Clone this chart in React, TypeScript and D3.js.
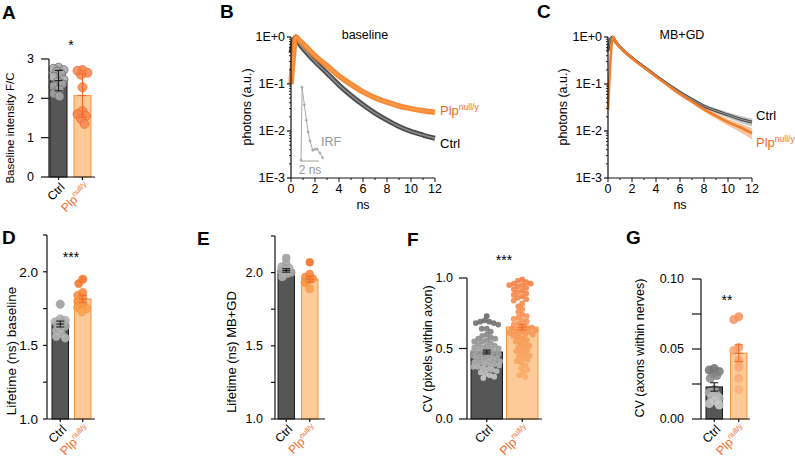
import React from "react";
import * as d3 from "d3";

const FONT = "'Liberation Sans', Arial, Helvetica, sans-serif";
const ORANGE_TEXT = "#f26a2a";
const CTRL_BAR = "#565656";
const PLP_BAR = "#fdca98";
const PLP_STROKE = "#f7953a";
const ERR_PLP = "#f26a2a";

const groupNames = ["Ctrl", "Plp"];

// ---------- Panel A ----------
const aCtrlPoints = [2.78, 2.75, 2.72, 2.68, 2.62, 2.55, 2.48, 2.42, 2.36, 2.3, 2.22, 2.12, 2.05];
const aPlpPoints = [2.72, 2.7, 2.65, 2.6, 2.28, 1.68, 1.6, 1.55, 1.48, 1.35];
const aMeans = [2.45, 2.07];
const aErrors = [0.26, 0.55];

// ---------- Panel D ----------
const dCtrlPoints = [1.78, 1.68, 1.67, 1.66, 1.65, 1.64, 1.63, 1.62, 1.6, 1.58, 1.56, 1.55];
const dPlpPoints = [1.95, 1.92, 1.86, 1.84, 1.82, 1.8, 1.78, 1.76, 1.75, 1.73];
const dMeans = [1.645, 1.815];
const dErrors = [0.02, 0.025];

// ---------- Panel E ----------
const eCtrlPoints = [2.1, 2.06, 2.04, 2.03, 2.02, 2.01, 2.0, 1.99, 1.97];
const ePlpPoints = [2.07, 1.99, 1.97, 1.96, 1.95, 1.93, 1.89];
const eMeans = [2.015, 1.955];
const eErrors = [0.012, 0.02];

// ---------- Panel F ----------
const fCtrlPoints = [
  0.73, 0.7, 0.69, 0.69, 0.68, 0.68, 0.67, 0.64, 0.64, 0.62, 0.6, 0.59, 0.58, 0.57, 0.57, 0.56,
  0.55, 0.55, 0.54, 0.53, 0.52, 0.52, 0.51, 0.51, 0.5, 0.5, 0.49, 0.49, 0.48, 0.48, 0.47, 0.47,
  0.46, 0.46, 0.45, 0.45, 0.45, 0.44, 0.44, 0.43, 0.43, 0.42, 0.42, 0.41, 0.41, 0.4, 0.4, 0.39,
  0.39, 0.38, 0.38, 0.37, 0.37, 0.36, 0.35, 0.35, 0.34, 0.33, 0.32, 0.31, 0.3, 0.29,
];
const fPlpPoints = [
  0.99, 0.98, 0.97, 0.96, 0.96, 0.95, 0.95, 0.94, 0.93, 0.92, 0.91, 0.9, 0.89, 0.88, 0.87, 0.86,
  0.85, 0.84, 0.82, 0.8, 0.78, 0.76, 0.74, 0.73, 0.72, 0.71, 0.7, 0.69, 0.68, 0.67, 0.66, 0.65,
  0.65, 0.64, 0.64, 0.63, 0.63, 0.62, 0.62, 0.61, 0.61, 0.6, 0.6, 0.59, 0.58, 0.57, 0.56, 0.55,
  0.54, 0.53, 0.52, 0.51, 0.5, 0.49, 0.48, 0.47, 0.46, 0.45, 0.44, 0.43, 0.42, 0.41, 0.4, 0.38,
  0.36, 0.35, 0.33, 0.31, 0.3,
];
const fMeans = [0.475, 0.652];
const fErrors = [0.014, 0.02];

// ---------- Panel G ----------
const gCtrlPoints = [0.036, 0.035, 0.034, 0.033, 0.031, 0.029, 0.021, 0.019, 0.017, 0.016, 0.015, 0.013, 0.011, 0.01];
const gPlpPoints = [0.073, 0.071, 0.051, 0.049, 0.042, 0.037, 0.029, 0.021];
const gMeans = [0.0229, 0.047];
const gErrors = [0.003, 0.006];

// ---------- Panels B / C (decay curves) ----------
const decayTimes = [0, 0.2, 0.4, 0.6, 0.8, 1, 1.5, 2, 3, 4, 5, 6, 7, 8, 9, 10, 11, 12];
const bCtrl = [0.45, 0.8, 1.0, 0.8, 0.66, 0.57, 0.41, 0.3, 0.17, 0.095, 0.057, 0.036, 0.024, 0.017, 0.0125, 0.0098, 0.0082, 0.007];
const bPlp = [0.1, 0.4, 1.0, 0.9, 0.8, 0.72, 0.53, 0.4, 0.245, 0.148, 0.098, 0.068, 0.051, 0.041, 0.034, 0.03, 0.027, 0.025];
const cCtrl = [0.5, 0.9, 1.0, 0.82, 0.7, 0.61, 0.46, 0.36, 0.23, 0.148, 0.098, 0.067, 0.047, 0.034, 0.027, 0.022, 0.018, 0.0155];
const cCtrlSem = [0, 0, 0, 0.01, 0.01, 0.008, 0.006, 0.005, 0.004, 0.003, 0.0025, 0.003, 0.003, 0.003, 0.003, 0.003, 0.003, 0.003];
const cPlp = [0.028, 0.3, 1.0, 0.84, 0.7, 0.6, 0.46, 0.355, 0.225, 0.145, 0.093, 0.061, 0.042, 0.029, 0.021, 0.0155, 0.012, 0.009];
const cPlpSem = [0, 0, 0, 0.01, 0.01, 0.008, 0.006, 0.005, 0.004, 0.004, 0.004, 0.004, 0.0035, 0.003, 0.0028, 0.0026, 0.0025, 0.0025];
const irfTimes = [0, 0.12, 0.37, 0.6, 0.8, 1.0, 1.3, 1.55, 1.8, 2.1, 2.4];
const irfValues = [0.0024, 0.086, 0.036, 0.017, 0.0095, 0.0061, 0.0039, 0.0041, 0.0041, 0.0034, 0.0027];
const logMajor = [1, 0.1, 0.01, 0.001];
const logLabels = ["1E+0", "1E-1", "1E-2", "1E-3"];
const nsTicks = [0, 2, 4, 6, 8, 10, 12];

function swarm(values: number[], y: (v: number) => number, cx: number, halfW: number, d: number) {
  const idx = values.map((_, i) => i).sort((a, b) => values[b] - values[a]);
  const placed: [number, number][] = [];
  const out: [number, number][] = new Array(values.length);
  const steps = Math.ceil(halfW / 0.5);
  for (const i of idx) {
    const py = y(values[i]);
    let best = cx;
    let bestScore = -Infinity;
    for (let k = 0; k <= 2 * steps; k++) {
      const off = (k % 2 === 0 ? 1 : -1) * Math.ceil(k / 2) * 0.5;
      if (Math.abs(off) > halfW) continue;
      const px = cx + off;
      let minD = Infinity;
      for (const p of placed) {
        const dd = Math.hypot(p[0] - px, p[1] - py);
        if (dd < minD) minD = dd;
      }
      if (minD >= d) {
        best = px;
        break;
      }
      if (minD > bestScore) {
        bestScore = minD;
        best = px;
      }
    }
    placed.push([best, py]);
    out[i] = [best, py];
  }
  return out;
}

function PlpLabel({ x, y, size = 12, sup = 8, rotate = 0, anchor = "end" }: any) {
  return (
    <text
      transform={`translate(${x},${y}) rotate(${rotate})`}
      textAnchor={anchor}
      fontSize={size}
      fill={ORANGE_TEXT}
    >
      <tspan>Plp</tspan>
      <tspan fontSize={sup} dy={-size * 0.42}>null/y</tspan>
    </text>
  );
}

function BarPanel(p: any) {
  const y = d3.scaleLinear().domain(p.domain).range([p.yBottom, p.yTop]);
  const xb = d3.scaleBand<string>().domain(groupNames).range([p.bandStart, p.bandEnd]).paddingInner(p.padInner);
  const bw = xb.bandwidth();
  const sets = [p.ctrl, p.plp];
  return (
    <g fontFamily={FONT}>
      <text x={p.letterX} y={p.letterY} fontSize={19} fontWeight="bold">{p.letter}</text>
      {groupNames.map((g, i) => (
        <rect
          key={g}
          x={xb(g)}
          y={y(p.means[i])}
          width={bw}
          height={p.yBottom - y(p.means[i])}
          fill={i === 0 ? CTRL_BAR : PLP_BAR}
          stroke={i === 0 ? "#1a1a1a" : PLP_STROKE}
          strokeWidth={1}
        />
      ))}
      {groupNames.map((g, gi) => {
        const cx = (xb(g) as number) + bw / 2;
        const pos = swarm(sets[gi], y, cx, Math.max(0, bw / 2 - p.r * 0.7), p.minDist);
        const vals = sets[gi];
        const col = d3
          .scaleLinear<string>()
          .domain([d3.min(vals) as number, d3.max(vals) as number])
          .range(p.colors[gi]);
        return (
          <g key={g}>
            {pos.map((q, i) => (
              <circle
                key={i}
                cx={q[0]}
                cy={q[1]}
                r={p.r}
                fill={col(vals[i])}
                fillOpacity={0.85}
                stroke={p.strokes[gi]}
                strokeWidth={p.strokeW}
                strokeOpacity={0.8}
              />
            ))}
          </g>
        );
      })}
      {groupNames.map((g, i) => {
        const cx = (xb(g) as number) + bw / 2;
        const c = i === 0 ? "#1a1a1a" : ERR_PLP;
        const y1 = y(p.means[i] + p.errors[i]);
        const y2 = y(p.means[i] - p.errors[i]);
        return (
          <g key={g} stroke={c} strokeWidth={1.1}>
            <line x1={cx} x2={cx} y1={y1} y2={y2} />
            <line x1={cx - 4} x2={cx + 4} y1={y1} y2={y1} />
            <line x1={cx - 4} x2={cx + 4} y1={y2} y2={y2} />
            <line x1={cx - 4} x2={cx + 4} y1={y(p.means[i])} y2={y(p.means[i])} />
          </g>
        );
      })}
      {/* y axis */}
      <line x1={p.axisX} x2={p.axisX} y1={p.yBottom} y2={y(p.axisTop)} stroke="#111" strokeWidth={1.2} />
      {p.ticks.map((t: number) => (
        <g key={t}>
          <line x1={p.axisX - p.tickLen} x2={p.axisX} y1={y(t)} y2={y(t)} stroke="#111" strokeWidth={1.2} />
          <text x={p.axisX - p.tickLen - p.labelGap} y={y(t)} dy="0.35em" textAnchor="end" fontSize={p.tickSize}>
            {d3.format(p.fmt)(t)}
          </text>
        </g>
      ))}
      {p.minor.map((t: number) => (
        <line key={t} x1={p.axisX - p.minorLen} x2={p.axisX} y1={y(t)} y2={y(t)} stroke="#111" strokeWidth={1.2} />
      ))}
      {/* x axis */}
      <line x1={p.axisX} x2={p.xEnd} y1={p.yBottom} y2={p.yBottom} stroke="#111" strokeWidth={1.2} />
      {groupNames.map((g) => {
        const cx = (xb(g) as number) + bw / 2;
        return <line key={g} x1={cx} x2={cx} y1={p.yBottom} y2={p.yBottom + 3} stroke="#111" strokeWidth={1.2} />;
      })}
      <text
        transform={`translate(${(xb("Ctrl") as number) + bw / 2 + 4},${p.yBottom + 8}) rotate(-45)`}
        textAnchor="end"
        fontSize={p.catSize}
        dy="0.35em"
      >
        Ctrl
      </text>
      <PlpLabel
        x={(xb("Plp") as number) + bw / 2 + 8}
        y={p.yBottom + 7 + p.catSize * 0.35}
        size={p.catSize}
        sup={p.catSize * 0.62}
        rotate={-45}
      />
      <text
        transform={`translate(${p.titleX},${p.titleY}) rotate(-90)`}
        textAnchor="middle"
        dy="0.35em"
        fontSize={p.titleSize}
      >
        {p.title}
      </text>
      {p.stars && (
        <text x={p.starsX} y={p.starsY} textAnchor="middle" fontSize={14}>
          {p.stars}
        </text>
      )}
    </g>
  );
}

function LogPanel(p: any) {
  const x = d3.scaleLinear().domain([0, 12]).range([p.axisX, p.axisX + 144]);
  const y = d3.scaleLog().domain([1e-3, 1]).range([178, 37]);
  const line = d3
    .line<number>()
    .x((_, i) => x(decayTimes[i]))
    .y((v) => y(v))
    .curve(d3.curveMonotoneX);
  const minor: number[] = [];
  [0.001, 0.01, 0.1].forEach((b) => {
    for (let k = 2; k <= 9; k++) minor.push(b * k);
  });
  const band = (m: number[], s: number[]) =>
    d3
      .area<number>()
      .x((_, i) => x(decayTimes[i]))
      .y0((v, i) => y(Math.max(1e-3, v - s[i])))
      .y1((v, i) => y(Math.min(1, v + s[i])))
      .curve(d3.curveMonotoneX)(m) as string;
  return (
    <g fontFamily={FONT}>
      <text x={p.letterX} y={18} fontSize={19} fontWeight="bold">{p.letter}</text>
      <text x={p.axisX + 74} y={39} textAnchor="middle" fontSize={12.5}>{p.title}</text>
      {p.kind === "C" && (
        <g>
          <path d={band(cCtrl, cCtrlSem)} fill="#9a9a9a" fillOpacity={0.55} />
          <path d={band(cPlp, cPlpSem)} fill="#f7a062" fillOpacity={0.6} />
          <path d={line(cCtrl) as string} fill="none" stroke="#4c4c4c" strokeWidth={3} />
          <path d={line(cCtrl) as string} fill="none" stroke="#9a9a9a" strokeWidth={1} />
          <path d={line(cPlp) as string} fill="none" stroke="#f47d27" strokeWidth={2.6} />
        </g>
      )}
      {p.kind === "B" && (
        <g>
          <path d={line(bCtrl) as string} fill="none" stroke="#4a4a4a" strokeWidth={5} />
          <path d={line(bCtrl) as string} fill="none" stroke="#8e8e8e" strokeWidth={1.6} />
          <path d={line(bPlp) as string} fill="none" stroke="#f5842a" strokeWidth={5.5} strokeOpacity={0.95} />
          <path d={line(bPlp) as string} fill="none" stroke="#f89b4c" strokeWidth={1.5} />
        </g>
      )}
      {p.kind === "B" && <Irf y={y} />}
      {/* axes */}
      <line x1={p.axisX} x2={p.axisX} y1={37} y2={178} stroke="#111" strokeWidth={1.2} />
      <line x1={p.axisX} x2={p.axisX + 144} y1={178} y2={178} stroke="#111" strokeWidth={1.2} />
      {logMajor.map((t, i) => (
        <g key={t}>
          <line x1={p.axisX - 4} x2={p.axisX} y1={y(t)} y2={y(t)} stroke="#111" strokeWidth={1.2} />
          <text x={p.axisX - 6} y={y(t)} dy="0.35em" textAnchor="end" fontSize={12.5}>
            {logLabels[i]}
          </text>
        </g>
      ))}
      {minor.map((t) => (
        <line key={t} x1={p.axisX - 2} x2={p.axisX} y1={y(t)} y2={y(t)} stroke="#111" strokeWidth={0.9} />
      ))}
      {d3.range(0, 13).map((t) => (
        <line key={t} x1={x(t)} x2={x(t)} y1={178} y2={t % 2 === 0 ? 182 : 180} stroke="#111" strokeWidth={1} />
      ))}
      {nsTicks.map((t) => (
        <text key={t} x={x(t)} y={193} textAnchor="middle" fontSize={12.5}>
          {t}
        </text>
      ))}
      <text x={x(6)} y={209} textAnchor="middle" fontSize={12.5}>ns</text>
      <text
        transform={`translate(${p.titleX},107) rotate(-90)`}
        textAnchor="middle"
        dy="0.35em"
        fontSize={12.5}
      >
        photons (a.u.)
      </text>
      {p.kind === "B" ? (
        <g>
          <PlpLabel x={p.axisX + 149} y={115} size={13} sup={8.5} anchor="start" />
          <text x={p.axisX + 149} y={148} fontSize={13}>Ctrl</text>
        </g>
      ) : (
        <g>
          <text x={p.axisX + 148} y={120} fontSize={13}>Ctrl</text>
          <PlpLabel x={p.axisX + 148} y={147} size={13} sup={8.5} anchor="start" />
        </g>
      )}
    </g>
  );
}

function Irf({ y }: any) {
  const xi = d3.scaleLinear().domain([0, 2]).range([301, 319]);
  const l = d3
    .line<number>()
    .x((_, i) => xi(irfTimes[i]))
    .y((v) => y(v))(irfValues) as string;
  return (
    <g>
      <path d={l} fill="none" stroke="#a8a8a8" strokeWidth={1} />
      {irfValues.map((v, i) => (
        <g key={i} stroke="#a0a0a0" strokeWidth={0.9}>
          <line x1={xi(irfTimes[i]) - 1.6} x2={xi(irfTimes[i]) + 1.6} y1={y(v)} y2={y(v)} />
          <line x1={xi(irfTimes[i])} x2={xi(irfTimes[i])} y1={y(v) - 1.6} y2={y(v) + 1.6} />
        </g>
      ))}
      <line x1={xi(0)} x2={xi(2)} y1={161} y2={161} stroke="#a0a0a0" strokeWidth={1} />
      <text x={xi(1)} y={174} textAnchor="middle" fontSize={12} fill="#999" fontFamily={FONT}>2 ns</text>
      <text x={321} y={146} fontSize={12.5} fill="#999" fontFamily={FONT}>IRF</text>
    </g>
  );
}

export default function App() {
  return (
    <svg width={795} height={460} style={{ display: "block", position: "absolute", left: 0, top: 0 }}>
      <rect width={795} height={460} fill="#fff" />
      <BarPanel
        letter="A" letterX={2} letterY={19}
        domain={[0, 3]} yBottom={177} yTop={59} axisTop={3}
        axisX={49} xEnd={95} bandStart={50} bandEnd={91} padInner={0.29}
        ticks={[0, 1, 2, 3]} fmt="d" minor={[]} tickLen={8} minorLen={8} labelGap={7} tickSize={12.5}
        ctrl={aCtrlPoints} plp={aPlpPoints} means={aMeans} errors={aErrors}
        r={4.5} minDist={6} strokeW={0.9}
        colors={[["#a8a8a8", "#a8a8a8"], ["#f6864f", "#f6864f"]]}
        strokes={["#666", "#f06a2a"]}
        title="Baseline intensity F/C" titleX={10} titleY={128} titleSize={11.5}
        catSize={12} stars="*" starsX={71} starsY={50}
      />
      <BarPanel
        letter="D" letterX={2} letterY={244}
        domain={[1, 2.25]} yBottom={419} yTop={235} axisTop={2.25}
        axisX={47} xEnd={95} bandStart={52} bandEnd={91} padInner={0.267}
        ticks={[1, 1.5, 2]} fmt=".1f" minor={[1.25, 1.75, 2.25]} tickLen={4} minorLen={4} labelGap={5} tickSize={13.5}
        ctrl={dCtrlPoints} plp={dPlpPoints} means={dMeans} errors={dErrors}
        r={4.2} minDist={5.8} strokeW={0.6}
        colors={[["#bdbdbd", "#9a9a9a"], ["#f9a24c", "#f26a1e"]]}
        strokes={["#999", "#f08a3a"]}
        title="Lifetime (ns) baseline" titleX={11.5} titleY={351} titleSize={13.5}
        catSize={12.5} stars="***" starsX={71} starsY={262}
      />
      <BarPanel
        letter="E" letterX={197} letterY={245}
        domain={[1, 2.25]} yBottom={419} yTop={236} axisTop={2.25}
        axisX={275} xEnd={325} bandStart={278} bandEnd={318} padInner={0.3}
        ticks={[1, 1.5, 2]} fmt=".1f" minor={[1.25, 1.75, 2.25]} tickLen={4} minorLen={4} labelGap={8} tickSize={12.5}
        ctrl={eCtrlPoints} plp={ePlpPoints} means={eMeans} errors={eErrors}
        r={4} minDist={5.2} strokeW={0.6}
        colors={[["#b5b5b5", "#9a9a9a"], ["#f9a04a", "#f26a1e"]]}
        strokes={["#999", "#f08a3a"]}
        title="Lifetime (ns) MB+GD" titleX={231} titleY={352} titleSize={13}
        catSize={12} stars={null}
      />
      <BarPanel
        letter="F" letterX={407} letterY={246}
        domain={[0, 1]} yBottom={419} yTop={278} axisTop={1}
        axisX={467} xEnd={542} bandStart={471} bandEnd={538} padInner={0.113}
        ticks={[0, 0.5, 1]} fmt=".1f" minor={[]} tickLen={8} minorLen={8} labelGap={6} tickSize={12.5}
        ctrl={fCtrlPoints} plp={fPlpPoints} means={fMeans} errors={fErrors}
        r={2.9} minDist={4.6} strokeW={0}
        colors={[["#cfcfcf", "#5c5c5c"], ["#f9ad66", "#f4783a"]]}
        strokes={["none", "none"]}
        title="CV (pixels within axon)" titleX={428} titleY={349} titleSize={12.5}
        catSize={12.5} stars="***" starsX={504} starsY={265}
      />
      <BarPanel
        letter="G" letterX={626} letterY={244}
        domain={[0, 0.1]} yBottom={419} yTop={279} axisTop={0.1}
        axisX={701} xEnd={750} bandStart={706} bandEnd={747} padInner={0.327}
        ticks={[0, 0.05, 0.1]} fmt=".2f" minor={[0.025, 0.075]} tickLen={9} minorLen={9} labelGap={8} tickSize={12.5}
        ctrl={gCtrlPoints} plp={gPlpPoints} means={gMeans} errors={gErrors}
        r={4.5} minDist={6} strokeW={0}
        colors={[["#d0d0d0", "#6e6e6e"], ["#fbb27a", "#f7925a"]]}
        strokes={["none", "none"]}
        title="CV (axons within nerves)" titleX={640} titleY={348} titleSize={12.5}
        catSize={12.5} stars="**" starsX={727} starsY={305}
      />
      <LogPanel kind="B" letter="B" letterX={220} axisX={291} title="baseline" titleX={247} />
      <LogPanel kind="C" letter="C" letterX={537} axisX={608} title="MB+GD" titleX={563} />
    </svg>
  );
}
